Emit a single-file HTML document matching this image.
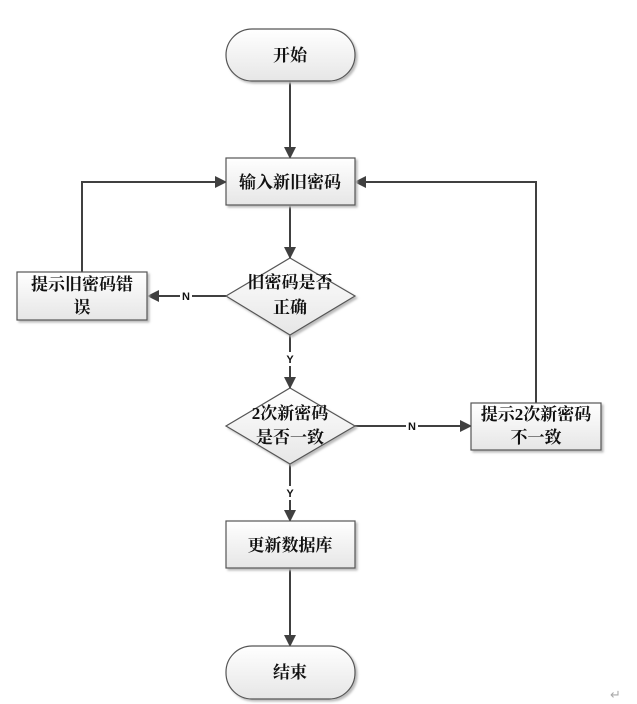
<!DOCTYPE html>
<html><head><meta charset="utf-8"><style>
html,body{margin:0;padding:0;background:#fff;}
svg{display:block;}
text{font-family:"Liberation Serif","Noto Serif CJK SC","Noto Sans CJK SC",serif;font-size:17px;fill:#111;font-weight:bold;}
.lb{font-family:"Liberation Sans",sans-serif;font-size:11px;font-weight:bold;}
</style></head><body>
<svg width="637" height="704" viewBox="0 0 637 704" xmlns="http://www.w3.org/2000/svg">
<defs>
<linearGradient id="g" x1="0" y1="0" x2="0" y2="1"><stop offset="0" stop-color="#ffffff"/><stop offset="1" stop-color="#e6e6e6"/></linearGradient>
<marker id="a" markerWidth="12" markerHeight="12" refX="11" refY="6" orient="auto" markerUnits="userSpaceOnUse"><path d="M0,0 L12,6 L0,12 z" fill="#404040"/></marker>
<filter id="s" x="-10%" y="-10%" width="130%" height="130%"><feDropShadow dx="2" dy="2" stdDeviation="1" flood-color="#bbb"/></filter>
</defs>
<g stroke="#404040" stroke-width="2" fill="none">
<line x1="290" y1="81" x2="290" y2="158" marker-end="url(#a)"/>
<line x1="290" y1="205" x2="290" y2="258" marker-end="url(#a)"/>
<line x1="290" y1="335" x2="290" y2="388" marker-end="url(#a)"/>
<line x1="290" y1="464" x2="290" y2="521" marker-end="url(#a)"/>
<line x1="290" y1="568" x2="290" y2="646" marker-end="url(#a)"/>
<line x1="226" y1="296" x2="148" y2="296" marker-end="url(#a)"/>
<polyline points="82,272 82,182 226,182" marker-end="url(#a)"/>
<line x1="355" y1="426" x2="471" y2="426" marker-end="url(#a)"/>
<polyline points="536,403 536,182 355,182" marker-end="url(#a)"/>
</g>
<g stroke="#555" stroke-width="1.2" fill="url(#g)" filter="url(#s)">
<rect x="226" y="29" width="129" height="52" rx="26"/>
<rect x="226" y="158" width="129" height="47"/>
<polygon points="290,258 355,296 290,335 226,296"/>
<rect x="17" y="272" width="130" height="48"/>
<polygon points="290,388 355,426 290,464 226,426"/>
<rect x="471" y="403" width="130" height="47"/>
<rect x="226" y="521" width="129" height="47"/>
<rect x="226" y="646" width="129" height="53" rx="26"/>
</g>
<g text-anchor="middle">
<text x="290" y="61">开始</text>
<text x="290" y="188">输入新旧密码</text>
<text x="290" y="288">旧密码是否</text>
<text x="290" y="313">正确</text>
<text x="82" y="290">提示旧密码错</text>
<text x="82" y="313">误</text>
<text x="290" y="419">2次新密码</text>
<text x="290" y="443">是否一致</text>
<text x="536" y="420">提示2次新密码</text>
<text x="536" y="443">不一致</text>
<text x="290" y="551">更新数据库</text>
<text x="290" y="678">结束</text>
<rect x="180" y="289" width="12" height="14" fill="#fff"/>
<text class="lb" x="186" y="300">N</text>
<rect x="284" y="352" width="12" height="14" fill="#fff"/>
<text class="lb" x="290" y="363">Y</text>
<rect x="406" y="419" width="12" height="14" fill="#fff"/>
<text class="lb" x="412" y="430">N</text>
<rect x="284" y="486" width="12" height="14" fill="#fff"/>
<text class="lb" x="290" y="497">Y</text>
</g>
<text x="610" y="699" style="font-size:13px;fill:#aaa;font-weight:normal">↵</text>
</svg>
</body></html>
